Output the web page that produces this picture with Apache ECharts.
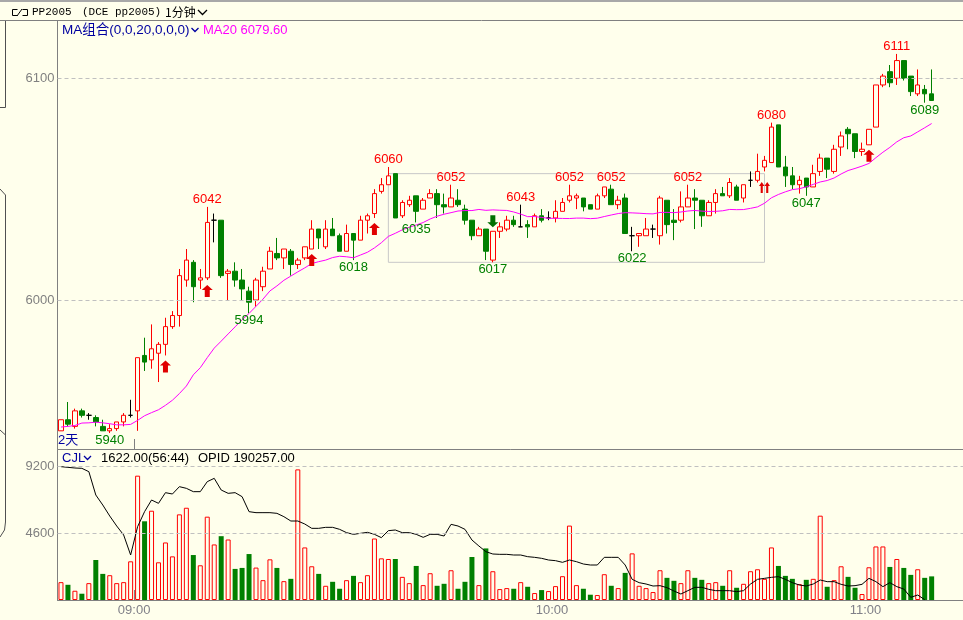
<!DOCTYPE html>
<html><head><meta charset="utf-8">
<script src="https://cdn.jsdelivr.net/npm/echarts@6/dist/echarts.min.js"></script>
<style>html,body{margin:0;padding:0;background:#FFFFEC}#c{width:963px;height:620px}</style>
</head><body><div id="c"></div><script>
// ---------- data ----------
const categories = [
'22:49','22:50','22:51','22:52','22:53','22:54','22:55','22:56','22:57','22:58','22:59',
'09:00','09:01','09:02','09:03','09:04','09:05','09:06','09:07','09:08','09:09',
'09:10','09:11','09:12','09:13','09:14','09:15','09:16','09:17','09:18','09:19',
'09:20','09:21','09:22','09:23','09:24','09:25','09:26','09:27','09:28','09:29',
'09:30','09:31','09:32','09:33','09:34','09:35','09:36','09:37','09:38','09:39',
'09:40','09:41','09:42','09:43','09:44','09:45','09:46','09:47','09:48','09:49',
'09:50','09:51','09:52','09:53','09:54','09:55','09:56','09:57','09:58','09:59',
'10:00','10:01','10:02','10:03','10:04','10:05','10:06','10:07','10:08','10:09',
'10:10','10:11','10:12','10:13','10:14',
'10:30','10:31','10:32','10:33','10:34','10:35','10:36','10:37','10:38','10:39',
'10:40','10:41','10:42','10:43','10:44','10:45','10:46','10:47','10:48','10:49',
'10:50','10:51','10:52','10:53','10:54','10:55','10:56','10:57','10:58','10:59',
'11:00','11:01','11:02','11:03','11:04','11:05','11:06','11:07','11:08','11:09'];
const timeTicks = ['09:00','10:00','11:00'];
const dayStart = '09:00';
const priceTicks = [6000, 6100];
const volTicks = [4600, 9200];

const open = [
5941,5946,5943,5950,5948,5947,5943,5941,5942,5945,
5948,5950,5975,5973,5976,5980,5988,5993,6009,6017,
6009,6010,6036,6036,6012,6013,6009,6004,6000,6006,
6014,6021,6019,6022,6016,6019,6023,6032,6024,6032,
6029,6022,6030,6027,6036,6039,6049,6052,6057,6038,
6043,6047,6041,6046,6048,6043,6042,6045,6041,6036,
6029,6032,6018,6031,6032,6036,6033,6034,6033,6038,
6037,6037,6040,6045,6046,6046,6043,6041,6047,6050,
6043,6046,6029,6029,6029,6032,6029,6045,6036,6036,
6042,6046,6045,6038,6044,6048,6047,6051,6046,6054,
6054,6060,6062,6079,6060,6056,6052,6055,6051,6058,
6064,6058,6069,6077,6075,6067,6070,6078,6097,6103,
6100,6108,6101,6093,6095,6093];
const close = [
5946,5944,5950,5948,5948,5945,5941,5942,5945,5948,
5948,5974,5972,5978,5980,5988,5993,6011,6018,6006,
6010,6035,6036,6011,6013,6009,6005,5999,6009,6013,
6022,6019,6023,6016,6018,6024,6032,6028,6032,6029,
6022,6030,6027,6036,6038,6048,6052,6056,6037,6044,
6045,6040,6045,6048,6043,6042,6046,6043,6036,6029,
6032,6022,6031,6033,6036,6034,6033,6033,6038,6036,
6037,6040,6044,6047,6047,6042,6041,6047,6051,6043,
6045,6030,6029,6030,6032,6032,6046,6034,6035,6042,
6046,6045,6038,6044,6048,6047,6053,6045,6052,6054,
6058,6063,6078,6060,6056,6052,6054,6051,6057,6064,
6059,6068,6074,6075,6067,6068,6077,6097,6101,6098,
6108,6100,6094,6097,6093,6090];
const low = [
5941,5943,5942,5947,5946,5943,5941,5940,5941,5943,
5947,5941,5968,5969,5963,5975,5987,5988,6006,5999,
6005,6009,6026,6010,6000,6006,6000,5994,5997,6004,
6014,6018,6014,6011,6014,6018,6023,6023,6023,6029,
6022,6022,6018,6027,6030,6037,6048,6052,6037,6037,
6042,6035,6041,6046,6037,6039,6042,6042,6034,6027,
6029,6018,6017,6028,6031,6033,6033,6028,6033,6035,
6036,6035,6040,6044,6041,6040,6041,6041,6046,6043,
6041,6030,6022,6024,6029,6028,6025,6030,6027,6035,
6042,6032,6033,6038,6039,6047,6046,6045,6044,6051,
6053,6058,6062,6060,6051,6050,6048,6047,6051,6056,
6055,6057,6065,6068,6064,6065,6070,6078,6096,6096,
6097,6099,6092,6092,6089,6090];
const high = [
5946,5954,5951,5951,5949,5948,5946,5944,5945,5949,
5955,5974,5983,5989,5981,5992,5995,6014,6023,6018,
6014,6042,6039,6036,6014,6017,6014,6006,6010,6015,
6024,6028,6023,6023,6019,6024,6036,6032,6036,6037,
6030,6034,6030,6038,6039,6050,6055,6060,6057,6045,
6047,6047,6046,6050,6050,6048,6052,6050,6043,6036,
6033,6032,6031,6035,6038,6038,6043,6036,6039,6041,
6040,6045,6046,6052,6048,6046,6043,6048,6051,6052,
6047,6048,6033,6030,6037,6034,6047,6045,6041,6049,
6052,6050,6045,6045,6050,6051,6055,6052,6052,6058,
6066,6065,6080,6079,6065,6060,6056,6055,6061,6066,
6064,6070,6076,6078,6075,6071,6077,6097,6102,6106,
6111,6108,6101,6104,6097,6104];
// MA20 for the bars whose 20-bar window starts before the visible range
const maLead = [5942.7,5943.0,5943.4,5944.5,5944.6,5944.9,5944.6,5944.2,5943.7,5943.7,
5943.9,5945.7,5947.8,5949.2,5950.5,5952.5,5954.8,5957.8,5961.2];
const volume = [
1226,1044,636,431,1158,2747,1793,1703,1158,1226,
2656,8535,5403,6129,2588,3950,2996,5879,6333,3087,
2383,5720,3814,4381,4154,2134,2202,3155,2225,1362,
2792,2202,1294,1453,8967,3609,2315,1793,976,1249,
772,1362,1657,1226,1703,4222,2860,2815,2815,1589,
1158,2338,1022,1839,976,1112,2043,772,1249,2951,
1022,3541,1975,749,817,772,1226,908,477,681,
613,953,1634,5108,1022,772,363,341,1771,976,
817,1861,3201,976,817,545,2043,1521,1317,1158,
2043,1521,1385,1158,1226,976,2043,840,1112,1975,
2111,1453,3609,2338,1657,1453,1090,1385,1453,5789,
908,1362,2315,1589,840,409,2247,3677,3677,2270,
2815,2202,1725,2111,1521,1622];
const openInterest = [
192657,192645,192633,192627,192567,192147,191967,191769,191589,191427,
191067,191577,191847,192057,191997,192189,192165,192297,192267,192207,
192207,192387,192447,192237,192177,192189,192117,191847,191829,191829,
191829,191817,191757,191679,191679,191625,191547,191547,191565,191565,
191529,191469,191439,191457,191475,191439,191379,191505,191517,191469,
191469,191439,191385,191439,191439,191409,191619,191589,191529,191337,
191229,191127,191085,191079,191079,191067,191067,191037,191025,191007,
190977,190965,190935,190977,190947,190905,190887,190887,191025,191025,
191025,190887,190629,190569,190545,190509,190515,190479,190419,190365,
190425,190485,190485,190449,190425,190425,190425,190407,190425,190545,
190629,190647,190665,190677,190629,190569,190527,190509,190545,190617,
190587,190587,190539,190509,190515,190539,190647,190587,190497,190569,
190497,190455,190305,190347,190263,null];
const lastOI = 190257;
const volRatio = '56:44';
const peakBars = [21,47,56,66,73,79,90,102,120];
const troughBars = [7,27,42,51,62,82,107,124];
const buyArrowBars = [15,21,36,45,116];
const buyDoubleArrowBars = [101];
const sellArrowBars = [62];
const boxFrom = 47, boxTo = 101, boxTop = 6057, boxBottom = 6017;

// ---------- build ----------
const BG = '#FFFFEC';
const FONT = "'Liberation Sans','Noto Sans CJK SC',sans-serif";
const axisCats = categories.concat(['','','','']);
const ohlc = open.map((o,i)=>[o, close[i], low[i], high[i]]);
const ma20 = close.map((c,i)=>{
  if (i < maLead.length) return maLead[i];
  let s = 0; for (let k=i-19;k<=i;k++) s += close[k];
  return +(s/20).toFixed(2);
});
const volData = volume.map((v,i)=>({value:v, itemStyle: close[i] >= open[i]
  ? {color:BG, borderColor:'#FF0000', borderWidth:1}
  : {color:'#008000', borderColor:'#008000', borderWidth:0}}));

const upPath = 'path://M5.5,0 L11,5 L8,5 L8,12 L3,12 L3,5 L0,5 Z';
const downPath = 'path://M3,0 L8,0 L8,7 L11,7 L5.5,12 L0,7 L3,7 Z';
const dblUpPath = 'path://M2.75,0 L5.5,4 L3.8,4 L3.8,11 L1.7,11 L1.7,4 L0,4 Z M8.25,0 L11,4 L9.3,4 L9.3,11 L7.2,11 L7.2,4 L5.5,4 Z';

const markPts = [];
peakBars.forEach(i=>markPts.push({coord:[i, high[i]], symbol:'circle', symbolSize:0,
  label:{show:true, position:'top', distance:1, formatter:String(high[i]), color:'#FF0000', fontSize:13, fontFamily:FONT}}));
troughBars.forEach(i=>markPts.push({coord:[i, low[i]], symbol:'circle', symbolSize:0,
  label:{show:true, position:'bottom', distance:1, formatter:String(low[i]), color:'#008000', fontSize:13, fontFamily:FONT}}));
buyArrowBars.forEach(i=>markPts.push({coord:[i, low[i]], symbol:upPath, symbolSize:[11,12], symbolOffset:[0,11],
  itemStyle:{color:'#E00000'}, label:{show:false}}));
buyDoubleArrowBars.forEach(i=>markPts.push({coord:[i, low[i]], symbol:dblUpPath, symbolSize:[11,11], symbolOffset:[0,16],
  itemStyle:{color:'#E00000'}, label:{show:false}}));
sellArrowBars.forEach(i=>markPts.push({coord:[i, high[i]], symbol:downPath, symbolSize:[11,12], symbolOffset:[0,-10],
  itemStyle:{color:'#007000'}, label:{show:false}}));

const gray = '#808080';
const lbl = {color:gray, fontSize:13, fontFamily:FONT, margin:3, formatter:(v)=>String(Math.round(v))};
const option = {
  backgroundColor: BG,
  animation: false,
  grid: [
    {left:57.5, top:21, width:910, height:428},
    {left:57.5, top:450, width:910, height:150}
  ],
  xAxis: [
    {type:'category', gridIndex:0, data:axisCats, boundaryGap:true,
     axisLine:{lineStyle:{color:gray}},
     axisTick:{show:true, inside:true, length:10, interval:(idx,v)=> idx===0 || v===dayStart, lineStyle:{color:gray}},
     axisLabel:{show:false}, splitLine:{show:false}},
    {type:'category', gridIndex:1, data:axisCats, boundaryGap:true,
     axisLine:{lineStyle:{color:gray}},
     axisTick:{show:true, inside:true, length:10, interval:(idx,v)=> idx===0 || v===dayStart, lineStyle:{color:gray}},
     axisLabel:{show:true, interval:(idx,v)=> timeTicks.indexOf(v)>=0, color:'#808088', fontSize:13, fontFamily:FONT, margin:4, padding:[0,7,0,0]},
     splitLine:{show:false}}
  ],
  yAxis: [
    {type:'value', gridIndex:0, min:5932.8, max:6125.85, scale:true,
     axisLine:{show:true, lineStyle:{color:gray}}, axisTick:{show:false}, splitLine:{show:false},
     axisLabel:Object.assign({customValues:priceTicks}, lbl)},
    {type:'value', gridIndex:1, min:0, max:10298,
     axisLine:{show:true, lineStyle:{color:gray}}, axisTick:{show:false}, splitLine:{show:false},
     axisLabel:Object.assign({customValues:volTicks}, lbl)},
    {type:'value', gridIndex:1, min:190257, max:192957, show:false, splitLine:{show:false}}
  ],
  series: [
    {type:'candlestick', name:'K', xAxisIndex:0, yAxisIndex:0, data:ohlc, barWidth:5,
     itemStyle:{color:BG, color0:'#008000', borderColor:'#FF0000', borderColor0:'#008000', borderColorDoji:'#000000', borderWidth:1},
     markLine:{silent:true, symbol:['none','none'], label:{show:false},
       lineStyle:{color:'#C0C0C0', type:[4,3], width:1},
       data: priceTicks.map(v=>({yAxis:v}))},
     markArea:{silent:true, label:{show:false},
       itemStyle:{color:'rgba(0,0,0,0)', borderColor:'#C8C8C8', borderWidth:1},
       data:[[{coord:[boxFrom, boxTop]}, {coord:[boxTo, boxBottom]}]]},
     markPoint:{silent:true, animation:false, data:markPts}
    },
    {type:'line', name:'MA20', xAxisIndex:0, yAxisIndex:0, data:ma20, symbol:'none',
     lineStyle:{color:'#FF00FF', width:1}, z:3},
    {type:'bar', name:'CJL', xAxisIndex:1, yAxisIndex:1, data:volData, barWidth:5,
     markLine:{silent:true, symbol:['none','none'], label:{show:false},
       lineStyle:{color:'#C0C0C0', type:[4,3], width:1},
       data: volTicks.map(v=>({yAxis:v}))}},
    {type:'line', name:'OPID', xAxisIndex:1, yAxisIndex:2, data:openInterest, symbol:'none',
     lineStyle:{color:'#000000', width:1}, z:3}
  ],
  graphic: [
    {type:'rect', shape:{x:0,y:0,width:963,height:2}, style:{fill:'#A8A8A8'}, silent:true},
    {type:'line', shape:{x1:0,y1:20.5,x2:963,y2:20.5}, style:{stroke:'#808080', lineWidth:1}, silent:true},
    {type:'polyline', shape:{points:[[0,107.5],[5.5,107.5],[5.5,21]]}, style:{stroke:'#505050', fill:null, lineWidth:1}, silent:true},
    {type:'polyline', shape:{points:[[0,189],[5.5,195],[5.5,522],[4.5,530],[0,537]]}, style:{stroke:'#505050', fill:null, lineWidth:1}, silent:true},
    {type:'polyline', shape:{points:[[0,430],[5.5,435]]}, style:{stroke:'#505050', fill:null, lineWidth:1}, silent:true},
    // header icon
    {type:'polyline', shape:{points:[[17.5,9.5],[12.5,9.5],[12.5,15.5],[17.5,15.5]]}, style:{stroke:'#000', fill:null, lineWidth:1}, silent:true},
    {type:'polyline', shape:{points:[[17,16],[22,9]]}, style:{stroke:'#000', fill:null, lineWidth:1}, silent:true},
    {type:'polyline', shape:{points:[[22.5,9.5],[27.5,9.5],[27.5,15.5],[22.5,15.5]]}, style:{stroke:'#000', fill:null, lineWidth:1}, silent:true},
    {type:'text', style:{text:'PP2005', x:32, y:12.5, fill:'#000', font:"11px 'Liberation Mono',monospace", verticalAlign:'middle'}, silent:true},
    {type:'text', style:{text:'(DCE pp2005)', x:82, y:12.5, fill:'#000', font:"11px 'Liberation Mono',monospace", verticalAlign:'middle'}, silent:true},
    {type:'text', style:{text:'1分钟', x:165, y:12.5, fill:'#000', font:"12px 'Noto Sans CJK SC'", verticalAlign:'middle'}, silent:true},
    {type:'polyline', shape:{points:[[198,10],[202.5,14.5],[207,10]]}, style:{stroke:'#000', fill:null, lineWidth:1.3}, silent:true},
    // MA legend
    {type:'text', style:{text:'MA组合(0,0,20,0,0,0)', x:62, y:30, fill:'#0000A0', font:"13.5px "+FONT, verticalAlign:'middle'}, silent:true},
    {type:'polyline', shape:{points:[[191.5,28],[195,31.5],[198.5,28]]}, style:{stroke:'#0000A0', fill:null, lineWidth:1.3}, silent:true},
    {type:'text', style:{text:'MA20 '+ma20[ma20.length-1].toFixed(2), x:203, y:30, fill:'#FF00FF', font:"13px "+FONT, verticalAlign:'middle'}, silent:true},
    {type:'text', style:{text:'2天', x:58, y:440, fill:'#0000A0', font:"13px "+FONT, verticalAlign:'middle'}, silent:true},
    // volume legend
    {type:'text', style:{text:'CJL', x:62, y:458, fill:'#0000A0', font:"13px "+FONT, verticalAlign:'middle'}, silent:true},
    {type:'polyline', shape:{points:[[84,456],[87.5,459.5],[91,456]]}, style:{stroke:'#0000A0', fill:null, lineWidth:1.3}, silent:true},
    {type:'text', style:{text:volume[volume.length-1].toFixed(2)+'('+volRatio+')', x:101, y:458, fill:'#000', font:"13px "+FONT, verticalAlign:'middle'}, silent:true},
    {type:'text', style:{text:'OPID '+lastOI.toFixed(2), x:198, y:458, fill:'#000', font:"13px "+FONT, verticalAlign:'middle'}, silent:true}
  ]
};
const chart = echarts.init(document.getElementById('c'), null, {renderer:'canvas'});
chart.setOption(option);
</script></body></html>
